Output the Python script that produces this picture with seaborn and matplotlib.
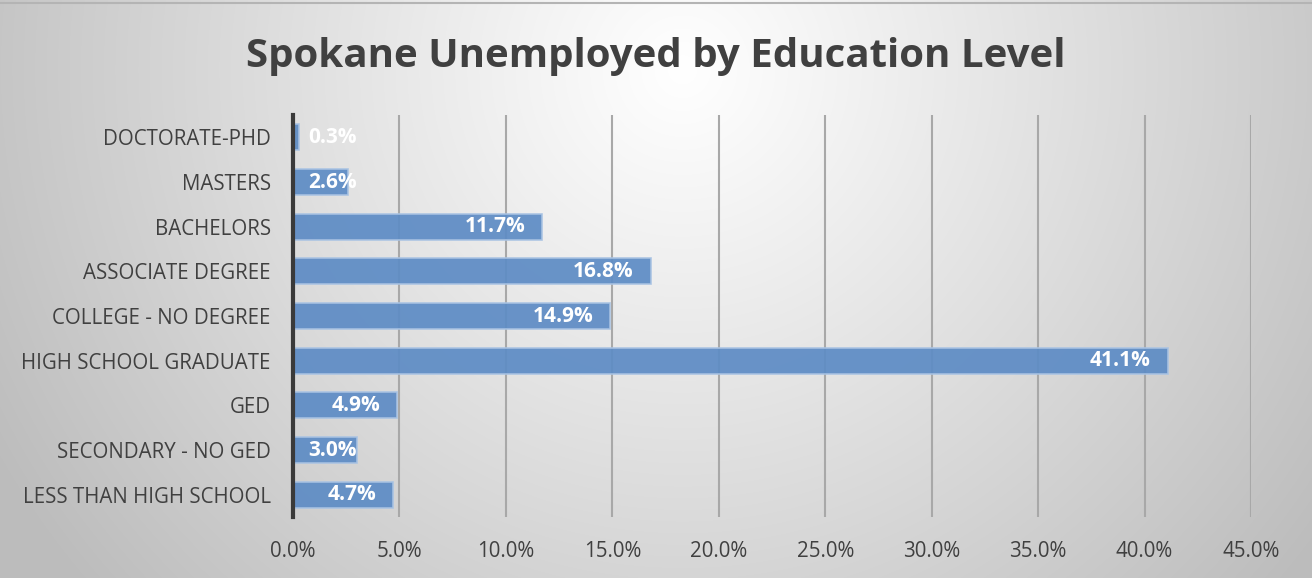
import numpy as np
import matplotlib
matplotlib.use("Agg")
import matplotlib.pyplot as plt
import seaborn as sns
import pandas as pd

# Share of unemployed residents by highest education level (percent)
categories = [
    "DOCTORATE-PHD",
    "MASTERS",
    "BACHELORS",
    "ASSOCIATE DEGREE",
    "COLLEGE - NO DEGREE",
    "HIGH SCHOOL GRADUATE",
    "GED",
    "SECONDARY - NO GED",
    "LESS THAN HIGH SCHOOL",
]
values = [0.3, 2.6, 11.7, 16.8, 14.9, 41.1, 4.9, 3.0, 4.7]
x_ticks = [0, 5, 10, 15, 20, 25, 30, 35, 40, 45]
title = "Spokane Unemployed by Education Level"

df = pd.DataFrame({"level": categories, "pct": values})

sns.set_style("white")
plt.rcParams["font.family"] = ["Open Sans", "DejaVu Sans"]

W, H = 1312, 578
fig = plt.figure(figsize=(W / 100, H / 100), dpi=100)

# Radial grey background, lightest just under the title
bg = fig.add_axes([0, 0, 1, 1], zorder=-10)
yy, xx = np.mgrid[0:H, 0:W]
cx, cy = 0.52 * W, 0.12 * H
r = np.sqrt(((xx - cx) / (0.60 * W)) ** 2 + ((yy - cy) / (0.60 * W)) ** 2)
r = np.clip(r, 0, 1)
shade = 1.0 - 0.26 * r ** 1.05
bg.imshow(np.dstack([shade] * 3), extent=[0, W, H, 0], aspect="auto", interpolation="bilinear")
bg.plot([0, W], [3, 3], color="#b4b4b4", lw=1.5)
bg.set_xlim(0, W)
bg.set_ylim(H, 0)
bg.axis("off")

ax = fig.add_axes([293 / W, 1 - 517 / H, (1251 - 293) / W, (517 - 115) / H])
ax.patch.set_alpha(0)

sns.barplot(data=df, x="pct", y="level", orient="h", ax=ax,
            color="#5e8cc5", width=0.58, saturation=1,
            edgecolor="#a9c3e3", linewidth=1.2, zorder=3)
for p in ax.patches:
    p.set_alpha(0.93)

ax.set_xlim(0, 45)
ax.set_xticks(x_ticks)
ax.set_xticklabels([f"{t:.1f}%" for t in x_ticks])
ax.set_xlabel("")
ax.set_ylabel("")
ax.grid(axis="x", color="#a8a8a8", lw=1.5, zorder=0)
ax.set_axisbelow(True)
for s in ["top", "right", "bottom"]:
    ax.spines[s].set_visible(False)
ax.spines["left"].set_color("#3a3a3a")
ax.spines["left"].set_linewidth(3)
ax.spines["left"].set_zorder(5)
ax.tick_params(axis="both", length=0, labelsize=14.8, labelcolor="#404040")
ax.tick_params(axis="x", pad=17)
ax.tick_params(axis="y", pad=16)

# Value labels at the inside end; short bars get them next to the axis
for i, v in enumerate(values):
    txt = f"{v:.1f}%"
    if v < 3.75:
        ax.text(0.72, i, txt, ha="left", va="center", color="white",
                fontsize=15, fontweight="bold", zorder=6)
    else:
        ax.text(v - 0.8, i, txt, ha="right", va="center", color="white",
                fontsize=15, fontweight="bold", zorder=6)

fig.text(0.5, 1 - 56 / H, title, ha="center", va="center",
         fontsize=29, fontweight="bold", color="#404040")

fig.savefig("out.png", dpi=100)
